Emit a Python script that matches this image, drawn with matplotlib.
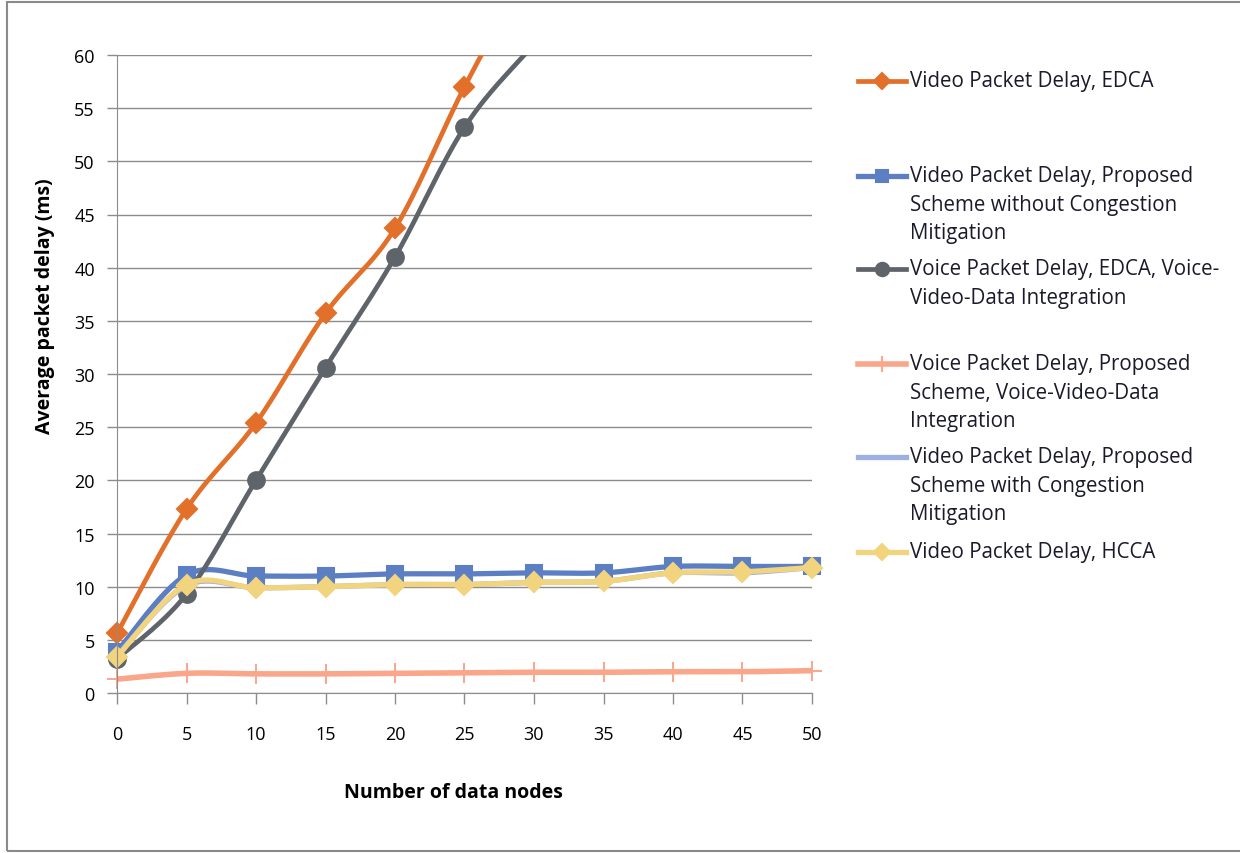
import numpy as np
import matplotlib.pyplot as plt
from matplotlib.lines import Line2D
from matplotlib.patches import Rectangle

plt.rcParams['font.family'] = ['Open Sans', 'DejaVu Sans']

nodes = [0, 5, 10, 15, 20, 25, 30, 35, 40, 45, 50]

video_edca = [5.6, 17.3, 25.4, 35.7, 43.7, 57.0, 69.0]
video_no_cm = [3.9, 11.1, 11.0, 11.0, 11.2, 11.2, 11.3, 11.3, 11.9, 11.9, 11.9]
voice_edca = [3.2, 9.3, 20.0, 30.6, 41.0, 53.2, 61.0, 68.0]
voice_proposed = [1.3, 1.85, 1.8, 1.8, 1.85, 1.9, 1.95, 1.95, 2.0, 2.0, 2.1]
video_cm = [3.5, 10.1, 9.9, 10.0, 10.2, 10.2, 10.4, 10.5, 11.3, 11.3, 11.8]
video_hcca = [3.4, 10.2, 9.9, 10.0, 10.2, 10.2, 10.4, 10.5, 11.3, 11.4, 11.8]

labels = [
    "Video Packet Delay, EDCA",
    "Video Packet Delay, Proposed\nScheme without Congestion\nMitigation",
    "Voice Packet Delay, EDCA, Voice-\nVideo-Data Integration",
    "Voice Packet Delay, Proposed\nScheme, Voice-Video-Data\nIntegration",
    "Video Packet Delay, Proposed\nScheme with Congestion\nMitigation",
    "Video Packet Delay, HCCA",
]


def smooth(x, y, steps=30):
    # bezier smoothing through every point, like spreadsheet "smoothed line"
    x = np.asarray(x, float)
    y = np.asarray(y, float)
    pts = np.column_stack([x, y])
    n = len(pts)
    out = [pts[0]]
    t = np.linspace(0, 1, steps)[1:, None]
    for i in range(n - 1):
        p0 = pts[max(i - 1, 0)]
        p1 = pts[i]
        p2 = pts[i + 1]
        p3 = pts[min(i + 2, n - 1)]
        c1 = p1 + (p2 - p0) / 6
        c2 = p2 - (p3 - p1) / 6
        seg = ((1 - t) ** 3) * p1 + 3 * ((1 - t) ** 2) * t * c1 + 3 * (1 - t) * t ** 2 * c2 + t ** 3 * p2
        out.extend(seg)
    out = np.array(out)
    return out[:, 0], out[:, 1]


# values, colour, marker, marker size, line width
series = [
    (video_edca, '#E2702A', 'D', 10, 3.4),
    (video_no_cm, '#5B7FC2', 's', 11, 3.8),
    (voice_edca, '#5F646B', 'o', 12, 3.4),
    (voice_proposed, '#F9A68A', '+', 14, 4.0),
    (video_cm, '#9DB0E2', None, 0, 3.8),
    (video_hcca, '#F2D37E', 'D', 10, 3.8),
]

fig = plt.figure(figsize=(12.4, 8.54), dpi=100)
ax = fig.add_axes([117 / 1240, 1 - 694 / 854, 695 / 1240, 638 / 854])

for vals, color, marker, ms, lw in series:
    xs = nodes[:len(vals)]
    sx, sy = smooth(xs, vals)
    ax.plot(sx, sy, color=color, lw=lw, solid_capstyle='round')
    if marker is not None:
        ax.plot(xs, vals, linestyle='none', marker=marker, ms=ms, color=color,
                markeredgecolor=color, mew=1.5 if marker != '+' else 1.4, clip_on=False)

ax.set_xlim(0, 50)
ax.set_ylim(0, 60)
ax.set_xticks(nodes)
ax.set_yticks(np.arange(0, 61, 5))
ax.grid(axis='y', color='#8c8c8c', lw=1.0)
ax.set_axisbelow(True)
for s in ['top', 'right']:
    ax.spines[s].set_visible(False)
ax.spines['left'].set_color('#8c8c8c')
ax.spines['bottom'].set_color('#8c8c8c')
ax.tick_params(axis='y', length=7, width=1.0, color='#8c8c8c', labelsize=13, pad=9)
ax.tick_params(axis='x', length=8, width=1.0, color='#8c8c8c', labelsize=13, pad=15)

# markers above 60 would otherwise sit outside the axes
for line in ax.lines:
    if line.get_linestyle() == 'None':
        xd, yd = line.get_data()
        keep = np.asarray(yd) <= 60
        line.set_data(np.asarray(xd)[keep], np.asarray(yd)[keep])

fig.text(45 / 1240, 1 - 306 / 854, "Average packet delay (ms)", rotation=90,
         fontsize=14, fontweight='bold', ha='center', va='center')
fig.text(453 / 1240, 1 - 793 / 854, "Number of data nodes",
         fontsize=14, fontweight='bold', ha='center', va='center')

# legend drawn by hand on the figure
legend_y = [82, 177, 270, 365, 458, 553]
for (vals, color, marker, ms, lw), label, y in zip(series, labels, legend_y):
    yf = 1 - y / 854
    fig.add_artist(Line2D([858 / 1240, 906 / 1240], [yf, yf], color=color, lw=lw,
                          transform=fig.transFigure))
    if marker is not None:
        fig.add_artist(Line2D([882 / 1240], [yf], marker=marker, ms=ms * 0.8, color=color,
                              mew=1.5, transform=fig.transFigure))
    fig.text(910 / 1240, yf + 11 / 854, label, fontsize=14.8, va='top', ha='left',
             linespacing=1.47, color='#1a1a2a')

fig.add_artist(Rectangle((7 / 1240, 1 - 852 / 854), 1.2, 849 / 854, fill=False,
                         edgecolor='#8a8a8a', lw=1.5, transform=fig.transFigure))

fig.savefig('out.png', dpi=100, facecolor='white')
